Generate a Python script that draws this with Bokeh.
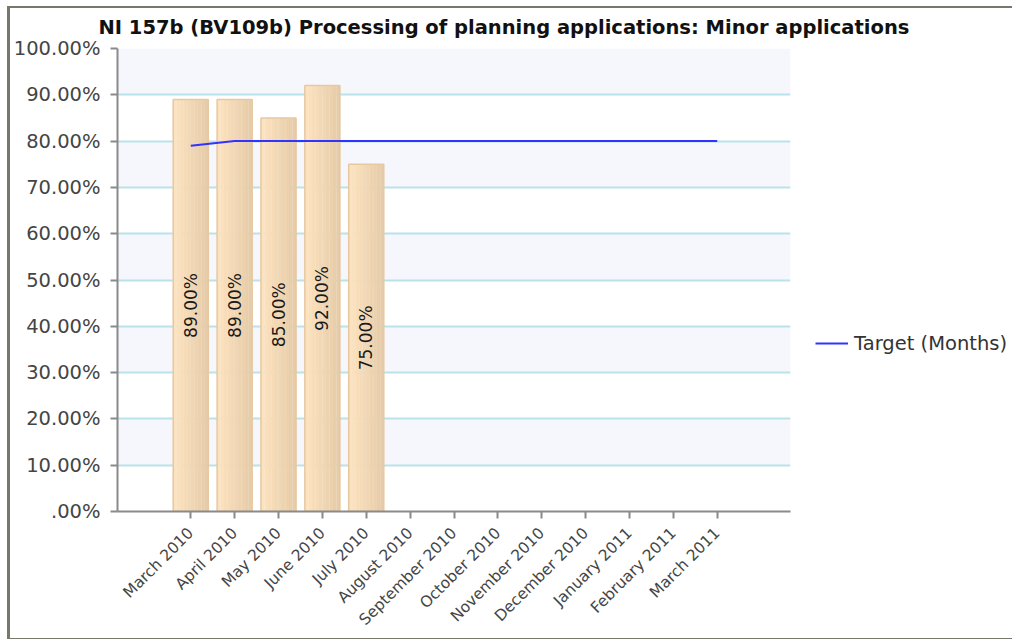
from math import pi
from bokeh.plotting import figure
from bokeh.models import FactorRange, ColumnDataSource, Legend, LegendItem, FixedTicker
from bokeh.core.properties import value
from bokeh.transform import dodge
from bokeh.embed import file_html
from bokeh.resources import INLINE

months = ["March 2010", "April 2010", "May 2010", "June 2010", "July 2010",
          "August 2010", "September 2010", "October 2010", "November 2010",
          "December 2010", "January 2011", "February 2011", "March 2011"]
actual_months = ["March 2010", "April 2010", "May 2010", "June 2010", "July 2010"]
actual = [89.0, 89.0, 85.0, 92.0, 75.0]
target = [79.0, 80.0, 80.0, 80.0, 80.0, 80.0, 80.0, 80.0, 80.0, 80.0, 80.0, 80.0, 80.0]
y_ticks = [0, 10, 20, 30, 40, 50, 60, 70, 80, 90, 100]
title = "NI 157b (BV109b) Processing of planning applications: Minor applications"

FONT = "DejaVu Sans"

p = figure(frame_width=673, frame_height=463, output_backend="svg", toolbar_location=None,
           x_range=FactorRange(*months, range_padding=1.17, range_padding_units="absolute"),
           y_range=(0, 100), title=title,
           min_border_left=107, min_border_right=222, min_border_top=40, min_border_bottom=126)
p.styles = {"border-style": "solid", "border-color": "#77776b",
            "border-width": "2px 0px 1px 3px", "margin-left": "7px", "margin-top": "6px"}
p.outline_line_color = None

p.title.text_font = FONT
p.title.text_font_style = "bold"
p.title.text_font_size = "19.5px"
p.title.text_color = "#111111"
p.title.align = "left"
p.title.offset = -19
p.title.vertical_align = "top"
p.title.standoff = 15

src = ColumnDataSource(dict(x=actual_months, top=actual,
                            mid=[v / 2 for v in actual],
                            lab=[f"{v:.2f}%" for v in actual]))

# horizontal gradient fill of each bar (light left -> darker right)
c0 = (252, 226, 190)
c1 = (231, 204, 169)
n_strips = 10
bar_w = 0.8
sw = bar_w / n_strips
for i in range(n_strips):
    t = i / (n_strips - 1)
    col = "#%02x%02x%02x" % tuple(round(a + (b - a) * t) for a, b in zip(c0, c1))
    off = -bar_w / 2 + sw * (i + 0.5)
    p.vbar(x=dodge("x", off, range=p.x_range), top="top", width=sw * 1.05, source=src,
           fill_color=col, line_color=None)
p.vbar(x="x", top="top", width=bar_w, source=src,
       fill_color=None, line_color="#e6c9a2", line_width=1.5)

p.text(x="x", y="mid", text="lab", source=src, angle=pi / 2,
       text_align="center", text_baseline="middle",
       text_font=value(FONT), text_font_size="17px", text_color="#1a1a1a")

tl = p.line(x=months, y=target, line_color="#3333ff", line_width=2)

p.yaxis.ticker = FixedTicker(ticks=y_ticks)
p.yaxis.major_label_overrides = {t: (f"{t:.2f}%" if t else ".00%") for t in y_ticks}
for ax in (p.xaxis[0], p.yaxis[0]):
    ax.axis_line_color = "#8a8a8a"
    ax.axis_line_width = 2
    ax.major_tick_line_color = "#8a8a8a"
    ax.major_tick_line_width = 2
    ax.major_tick_in = 0
    ax.major_tick_out = 7
    ax.minor_tick_line_color = None
    ax.major_label_text_font = FONT
    ax.major_label_text_color = "#454545"
p.yaxis.major_label_text_font_size = "19.5px"
p.yaxis.major_label_standoff = 10
p.xaxis.major_label_text_font_size = "15.5px"
p.xaxis.major_label_orientation = pi / 4
p.xaxis.major_label_standoff = 12
p.xaxis.group_text_font_size = "0px"

p.xgrid.grid_line_color = None
p.ygrid.grid_line_color = "#b9e3ea"
p.ygrid.grid_line_width = 2
p.ygrid.band_fill_color = "#f5f7fd"
p.ygrid.band_fill_alpha = 1.0

legend = Legend(items=[LegendItem(label="Target (Months)", renderers=[tl])],
                location="bottom_left", padding=0, margin=25,
                border_line_color=None, background_fill_alpha=0,
                label_text_font=FONT, label_text_font_size="19.5px",
                label_text_color="#333333", glyph_width=33, label_standoff=6,
                glyph_height=286, label_height=286)
p.add_layout(legend, "right")

open("out.html", "w").write(file_html(p, INLINE))
